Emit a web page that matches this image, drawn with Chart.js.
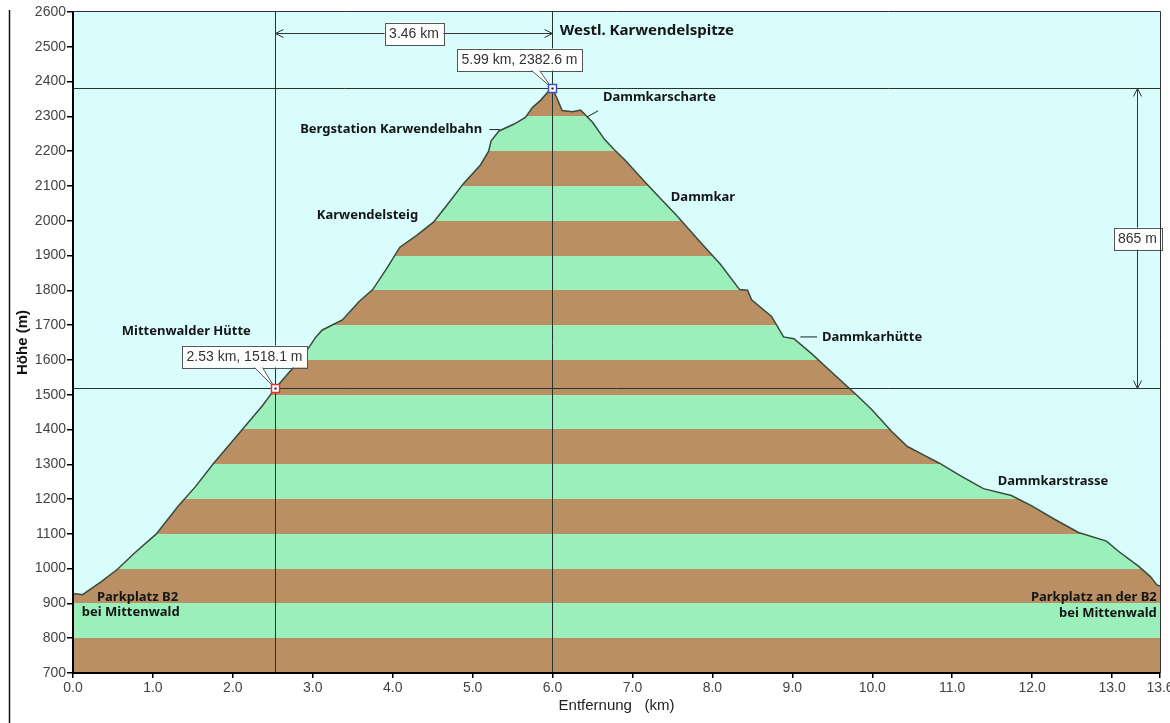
<!DOCTYPE html>
<html lang="de">
<head>
<meta charset="UTF-8">
<title>Höhenprofil Westl. Karwendelspitze</title>
<script src="https://cdn.jsdelivr.net/npm/chart.js@4.4.1/dist/chart.umd.min.js"></script>
<style>
  html, body { margin: 0; padding: 0; background: #fff; }
  canvas { display: block; }
</style>
</head>
<body>
<canvas id="profileChart" width="1170" height="723"></canvas>
<script>
// route profile: distance (km) and height (m)
const distKm = [0, 0.06, 0.12, 0.35, 0.56, 0.77, 1.04, 1.32, 1.53, 1.76,
                2.11, 2.37, 2.53, 2.87, 3.04, 3.12, 3.37, 3.58, 3.75, 3.92,
                4.09, 4.30, 4.51, 4.68, 4.89, 5.10, 5.20, 5.23, 5.33, 5.52,
                5.66, 5.75, 5.85, 5.99, 6.05, 6.12, 6.25, 6.35, 6.40, 6.50,
                6.65, 6.77, 6.90, 7.15, 7.35, 7.55, 7.85, 8.10, 8.34, 8.44,
                8.49, 8.74, 8.89, 9.02, 9.24, 9.49, 9.79, 9.99, 10.24, 10.44,
                10.64, 10.84, 11.09, 11.39, 11.74, 11.99, 12.28, 12.58, 12.93, 13.08,
                13.33, 13.48, 13.56, 13.6];
const elevM = [928, 927, 925, 962, 999, 1045, 1099, 1181, 1235, 1303,
               1398, 1468, 1518.1, 1608, 1666, 1686, 1715, 1768, 1802, 1861,
               1924, 1958, 1996, 2045, 2108, 2161, 2200, 2229, 2258, 2278,
               2297, 2326, 2346, 2382.6, 2355, 2317, 2313, 2318, 2307, 2283,
               2234, 2205, 2176, 2113, 2064, 2016, 1938, 1875, 1802, 1800,
               1773, 1725, 1666, 1661, 1618, 1565, 1502, 1458, 1395, 1351,
               1327, 1303, 1269, 1230, 1210, 1181, 1142, 1104, 1079, 1050,
               1007, 977, 953, 950];

const xTicks = [0, 1, 2, 3, 4, 5, 6, 7, 8, 9, 10, 11, 12, 13, 13.6];
const yMin = 700, yMax = 2600, yStep = 100;

// the two measured points
const markKm = [2.53, 5.99];
const markElev = [1518.1, 2382.6];

const BROWN = '#b98f63';
const GREEN = '#9befbb';
const SKY = '#d9fcfc';
const INK = '#151515';

// alternating 100 m bands under the profile
function stripeFill(context) {
    const chart = context.chart;
    if (!chart.chartArea) return GREEN;
    const y = chart.scales.y;
    const g = chart.ctx.createLinearGradient(0, y.getPixelForValue(yMin), 0, y.getPixelForValue(yMax));
    const span = yMax - yMin;
    for (let v = yMin; v < yMax; v += yStep) {
        const c = (v / yStep) % 2 ? BROWN : GREEN;
        g.addColorStop((v - yMin) / span, c);
        g.addColorStop((v + yStep - yMin) / span, c);
    }
    return g;
}

function placeLabel(ctx, text, px, py, align, size) {
    ctx.font = 'bold ' + size + 'px "Noto Sans"';
    ctx.textAlign = align;
    ctx.textBaseline = 'middle';
    ctx.fillStyle = INK;
    ctx.fillText(text, px, py);
}

function line(ctx, x1, y1, x2, y2) {
    ctx.beginPath();
    ctx.moveTo(x1, y1);
    ctx.lineTo(x2, y2);
    ctx.stroke();
}

function textBox(ctx, text, cx, cy) {
    ctx.font = '14px "Liberation Sans"';
    const w = ctx.measureText(text).width + 9, h = 22;
    ctx.fillStyle = '#fff';
    ctx.fillRect(cx - w / 2, cy - h / 2, w, h);
    ctx.strokeStyle = '#555';
    ctx.lineWidth = 1;
    ctx.strokeRect(Math.round(cx - w / 2) + 0.5, Math.round(cy - h / 2) + 0.5, Math.round(w), h);
    ctx.fillStyle = '#333';
    ctx.textAlign = 'center';
    ctx.textBaseline = 'middle';
    ctx.fillText(text, cx, cy + 1);
    return {w: w, h: h};
}

function callout(ctx, text, px, py, dx, dy) {
    const cx = px + dx, cy = py + dy;
    const b = textBox(ctx, text, cx, cy);
    const by = cy + b.h / 2;
    ctx.strokeStyle = '#555';
    ctx.lineWidth = 1;
    ctx.fillStyle = '#fff';
    ctx.beginPath();
    ctx.moveTo(px - 21, by);
    ctx.lineTo(px - 1, py - 1);
    ctx.lineTo(px - 13, by);
    ctx.fill();
    ctx.stroke();
}

function marker(ctx, px, py, color) {
    ctx.fillStyle = '#fff';
    ctx.fillRect(px - 4, py - 4, 8, 8);
    ctx.strokeStyle = color;
    ctx.lineWidth = 1.5;
    ctx.strokeRect(px - 4, py - 4, 8, 8);
    ctx.fillStyle = '#111';
    ctx.fillRect(px - 1, py - 1, 2, 2);
}

function chevron(ctx, px, py, dirX, dirY) {
    const L = 8, S = 4;
    ctx.beginPath();
    ctx.moveTo(px - dirX * L - dirY * S, py - dirY * L - dirX * S);
    ctx.lineTo(px, py);
    ctx.lineTo(px - dirX * L + dirY * S, py - dirY * L + dirX * S);
    ctx.stroke();
}

const profileDecor = {
    id: 'profileDecor',
    beforeDraw(chart) {
        const {ctx, chartArea: a} = chart;
        ctx.save();
        ctx.fillStyle = SKY;
        ctx.fillRect(a.left, a.top, a.right - a.left, a.bottom - a.top);
        ctx.restore();
    },
    afterDatasetsDraw(chart) {
        const {ctx, chartArea: a, scales: {x, y}} = chart;
        const ax = Math.round(x.getPixelForValue(markKm[0])) + 0.5;
        const bx = Math.round(x.getPixelForValue(markKm[1])) + 0.5;
        const ay = Math.round(y.getPixelForValue(markElev[0])) + 0.5;
        const by = Math.round(y.getPixelForValue(markElev[1])) + 0.5;
        ctx.save();

        // cross-hair lines through both points
        ctx.strokeStyle = '#283428';
        ctx.lineWidth = 1;
        line(ctx, ax, a.top, ax, a.bottom);
        line(ctx, bx, a.top, bx, a.bottom);
        line(ctx, a.left, ay, a.right, ay);
        line(ctx, a.left, by, a.right, by);

        // horizontal distance
        const hy = Math.round(y.getPixelForValue(2540)) + 0.5;
        ctx.strokeStyle = '#333';
        line(ctx, ax, hy, bx, hy);
        chevron(ctx, ax, hy, -1, 0);
        chevron(ctx, bx, hy, 1, 0);
        textBox(ctx, (markKm[1] - markKm[0]).toFixed(2) + ' km', (ax + bx) / 2, hy);

        // height difference
        const vx = Math.round(x.getPixelForValue(13.31)) + 0.5;
        ctx.strokeStyle = '#333';
        line(ctx, vx, by, vx, ay);
        chevron(ctx, vx, by, 0, -1);
        chevron(ctx, vx, ay, 0, 1);
        textBox(ctx, Math.round(markElev[1] - markElev[0]) + ' m', vx, (ay + by) / 2);

        // leader lines
        ctx.strokeStyle = '#222';
        ctx.lineWidth = 1;
        line(ctx, x.getPixelForValue(5.21), y.getPixelForValue(2262), x.getPixelForValue(5.34), y.getPixelForValue(2262));
        line(ctx, x.getPixelForValue(6.43), y.getPixelForValue(2298), x.getPixelForValue(6.57), y.getPixelForValue(2316));
        line(ctx, x.getPixelForValue(9.10), y.getPixelForValue(1666), x.getPixelForValue(9.31), y.getPixelForValue(1666));

        // place names
        const P = (km, m) => [x.getPixelForValue(km), y.getPixelForValue(m)];
        const names = [
            ['Westl. Karwendelspitze', 6.09, 2545, 'left', 15],
            ['Dammkarscharte', 6.63, 2354, 'left', 13],
            ['Bergstation Karwendelbahn', 5.12, 2264, 'right', 13],
            ['Karwendelsteig', 3.05, 2016, 'left', 13],
            ['Dammkar', 7.48, 2066, 'left', 13],
            ['Mittenwalder Hütte', 0.61, 1683, 'left', 13],
            ['Dammkarhütte', 9.37, 1666, 'left', 13],
            ['Dammkarstrasse', 11.57, 1252, 'left', 13],
            ['Parkplatz B2', 0.30, 918, 'left', 13],
            ['bei Mittenwald', 0.11, 874, 'left', 13],
            ['Parkplatz an der B2', 13.56, 918, 'right', 13],
            ['bei Mittenwald', 13.56, 872, 'right', 13]
        ];
        names.forEach(n => {
            const p = P(n[1], n[2]);
            placeLabel(ctx, n[0], p[0], p[1], n[3], n[4]);
        });

        // the two measured points with their callouts
        callout(ctx, markKm[1].toFixed(2) + ' km, ' + markElev[1].toFixed(1) + ' m', bx, by, -33, -29);
        callout(ctx, markKm[0].toFixed(2) + ' km, ' + markElev[0].toFixed(1) + ' m', ax, ay, -31, -32);
        marker(ctx, bx, by, '#4050c0');
        marker(ctx, ax, ay, '#e03535');
        ctx.restore();
    },
    afterDraw(chart) {
        const {ctx, chartArea: a} = chart;
        ctx.save();
        ctx.strokeStyle = '#333';
        ctx.lineWidth = 1;
        line(ctx, a.left, a.top - 0.5, a.right + 0.5, a.top - 0.5);
        line(ctx, a.right + 0.5, a.top - 0.5, a.right + 0.5, a.bottom);
        ctx.strokeStyle = '#111';
        ctx.lineWidth = 1.5;
        line(ctx, 9.5, 10, 9.5, chart.height);

        ctx.fillStyle = '#222';
        ctx.font = '15px "Liberation Sans"';
        ctx.textAlign = 'center';
        ctx.textBaseline = 'middle';
        ctx.fillText('Entfernung   (km)', (a.left + a.right) / 2, 706);

        ctx.translate(23, (a.top + a.bottom) / 2);
        ctx.rotate(-Math.PI / 2);
        ctx.font = 'bold 15px "Liberation Sans"';
        ctx.fillStyle = '#111';
        ctx.fillText('Höhe (m)', 0, 0);
        ctx.restore();
    }
};

const points = distKm.map((d, i) => ({x: d, y: elevM[i]}));

new Chart(document.getElementById('profileChart'), {
    type: 'line',
    data: {
        datasets: [{
            label: 'Höhe',
            data: points,
            borderColor: '#3a4a3c',
            borderWidth: 1.5,
            pointRadius: 0,
            tension: 0,
            fill: 'start',
            backgroundColor: stripeFill
        }]
    },
    options: {
        responsive: false,
        animation: false,
        layout: { padding: { top: 12, right: 10, left: 0, bottom: 0 } },
        plugins: { legend: { display: false }, tooltip: { enabled: false } },
        scales: {
            x: {
                type: 'linear',
                min: 0,
                max: 13.6,
                afterBuildTicks: s => { s.ticks = xTicks.map(v => ({value: v})); },
                afterFit: s => { s.height = 50; s.paddingLeft = 0; s.paddingRight = 0; },
                ticks: {
                    autoSkip: false,
                    maxRotation: 0,
                    padding: 2,
                    color: '#444',
                    font: { family: 'Liberation Sans', size: 14 },
                    callback: v => Number(v).toFixed(1)
                },
                grid: { drawOnChartArea: false, drawTicks: true, tickLength: 5, color: '#000', lineWidth: 1.5 },
                border: { color: '#000', width: 2, z: 1 }
            },
            y: {
                min: yMin,
                max: yMax,
                afterFit: s => { s.width = 73; },
                ticks: {
                    stepSize: yStep,
                    padding: 1,
                    color: '#444',
                    font: { family: 'Liberation Sans', size: 14 },
                    callback: v => String(v)
                },
                grid: { drawOnChartArea: false, drawTicks: true, tickLength: 6, color: '#000', lineWidth: 1.5 },
                border: { color: '#000', width: 2, z: 1 }
            }
        }
    },
    plugins: [profileDecor]
});
</script>
</body>
</html>
